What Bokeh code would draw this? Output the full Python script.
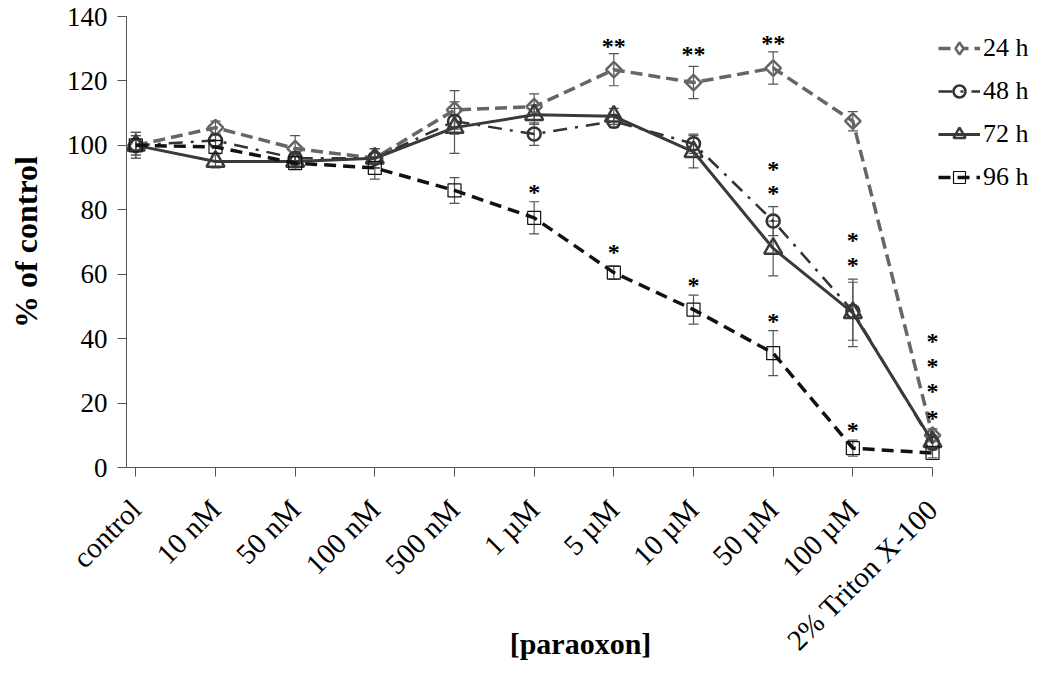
import math
from bokeh.plotting import figure
from bokeh.models import (ColumnDataSource, Range1d, FixedTicker, Whisker, TeeHead,
                          Legend, LegendItem)
from bokeh.core.properties import value
from bokeh.embed import file_html
from bokeh.resources import INLINE

categories = ["control", "10 nM", "50 nM", "100 nM", "500 nM", "1 \u00b5M", "5 \u00b5M",
              "10 \u00b5M", "50 \u00b5M", "100 \u00b5M", "2% Triton X-100"]

v24 = [100, 105.5, 99, 96, 111, 112, 123.5, 119.5, 124, 107.5, 10]
e24 = [4, 2, 4, 3, 6, 4, 5, 5, 5, 3, 2]
v48 = [100, 101.5, 96, 96, 107.5, 103.5, 107.5, 100.5, 76.5, 48.5, 7.5]
e48 = [3, 2, 2, 3, 4, 3.5, 2, 3, 4.5, 9, 2]
v72 = [100, 95, 95, 96, 105.5, 109.5, 109, 98, 68, 48, 8]
e72 = [3, 2, 2, 3, 8, 3, 2.5, 5, 8.5, 10.5, 2]
v96 = [100, 99.5, 94.5, 93, 86, 77.5, 60.5, 49, 35.5, 6, 4.5]
e96 = [4, 2, 2, 3.5, 4, 5, 2, 4.5, 7, 2.5, 1.5]

# significance marks: category index, y value, text
star_x = [6, 7, 8, 8, 8, 9, 9, 10, 10, 10, 10, 5, 6, 7, 8, 9]
star_y = [134.6, 132.1, 135.6, 96.3, 89.0, 74.5, 66.5, 43.1, 35.3, 27.6, 19.0,
          89.1, 70.7, 60.3, 49.1, 15.5]
star_t = ["**", "**", "**", "*", "*", "*", "*", "*", "*", "*", "*", "*", "*", "*", "*", "*"]

SERIF = "Liberation Serif"

p = figure(width=1034, height=667, output_backend="svg", toolbar_location=None,
           x_range=Range1d(-0.117, 11.28), y_range=Range1d(0, 140),
           min_border_left=126, min_border_right=0, min_border_top=16, min_border_bottom=200)
p.outline_line_color = None
p.xgrid.grid_line_color = None
p.ygrid.grid_line_color = None
p.background_fill_color = "white"
p.border_fill_color = "white"

xs = list(range(len(categories)))

series = [
    ("24 h", v24, e24, dict(color="#666666", width=3.5, dash="12 6"), "square", 11, math.pi / 4, 2.5, "diamond", 17),
    ("48 h", v48, e48, dict(color="#333333", width=2.5, dash="14 8 3 8"), "circle", 13, 0, 2.5, "circle", 13),
    ("72 h", v72, e72, dict(color="#3a3a3a", width=3, dash="solid"), "triangle", 18, 0, 2.5, "triangle", 18),
    ("96 h", v96, e96, dict(color="#111111", width=3.5, dash="12 7"), "square", 13, 0, 1.2, "square", 13),
]

items = []
for name, vals, errs, ls, marker, msize, mangle, mlw, lmarker, lsize in series:
    src = ColumnDataSource(dict(x=xs, y=vals,
                                upper=[v + e for v, e in zip(vals, errs)],
                                lower=[v - e for v, e in zip(vals, errs)]))
    wh = Whisker(source=src, base="x", upper="upper", lower="lower", dimension="height",
                 line_color="#555555", line_width=1.2,
                 upper_head=TeeHead(size=10, line_color="#555555", line_width=1.2),
                 lower_head=TeeHead(size=10, line_color="#555555", line_width=1.2))
    p.add_layout(wh)
    ln = p.line("x", "y", source=src, line_color=ls["color"], line_width=ls["width"],
                line_dash=ls["dash"])
    sc = p.scatter("x", "y", source=src, marker=marker, size=msize, angle=mangle,
                   fill_color=None, line_color=ls["color"], line_width=mlw)
    if lmarker == marker and mangle == 0:
        rends = [ln, sc]
    else:
        # legend-only marker glyph, placed off the visible ranges
        lg = p.scatter(x=[-50], y=[-50], marker=lmarker, size=lsize, fill_color="white",
                       line_color=ls["color"], line_width=mlw)
        rends = [ln, lg]
    items.append(LegendItem(label=name, renderers=rends))

ssrc = ColumnDataSource(dict(x=star_x, y=star_y, t=star_t))
p.text("x", "y", text="t", source=ssrc, text_font=value(SERIF), text_font_style="bold",
       text_font_size="24px", text_align="center", text_baseline="middle",
       text_color="black", y_offset=12)

legend = Legend(items=items, location=(812, 275), orientation="vertical",
                glyph_width=42, glyph_height=30, label_height=30, spacing=13,
                padding=0, margin=0, label_standoff=3,
                border_line_color=None, background_fill_color=None,
                label_text_font=SERIF, label_text_font_size="26px",
                label_text_color="black")
p.add_layout(legend)

# x axis
xa = p.xaxis[0]
xa.ticker = FixedTicker(ticks=xs)
xa.major_label_overrides = {i: c for i, c in enumerate(categories)}
xa.bounds = (-0.117, 10)
xa.major_label_orientation = math.pi / 4
xa.major_label_text_font = SERIF
xa.major_label_text_font_size = "29px"
xa.major_label_text_color = "black"
xa.major_tick_out = 9
xa.major_tick_in = 0
xa.minor_tick_out = 0
xa.minor_tick_in = 0
xa.axis_line_color = "#555555"
xa.major_tick_line_color = "#555555"
xa.major_label_standoff = 28
xa.axis_label = "[paraoxon]"
xa.axis_label_text_font = SERIF
xa.axis_label_text_font_style = "bold"
xa.axis_label_text_font_size = "30px"
xa.axis_label_text_color = "black"
xa.axis_label_standoff = -44

# y axis
ya = p.yaxis[0]
ya.ticker = FixedTicker(ticks=[0, 20, 40, 60, 80, 100, 120, 140])
ya.major_label_text_font = SERIF
ya.major_label_text_font_size = "27px"
ya.major_label_text_color = "black"
ya.major_tick_out = 9
ya.major_tick_in = 0
ya.minor_tick_out = 0
ya.minor_tick_in = 0
ya.axis_line_color = "#555555"
ya.major_tick_line_color = "#555555"
ya.major_label_standoff = 10
ya.axis_label = "% of control"
ya.axis_label_text_font = SERIF
ya.axis_label_text_font_style = "bold"
ya.axis_label_text_font_size = "32px"
ya.axis_label_text_color = "black"
ya.axis_label_standoff = 20

open("out.html", "w").write(file_html(p, INLINE))
